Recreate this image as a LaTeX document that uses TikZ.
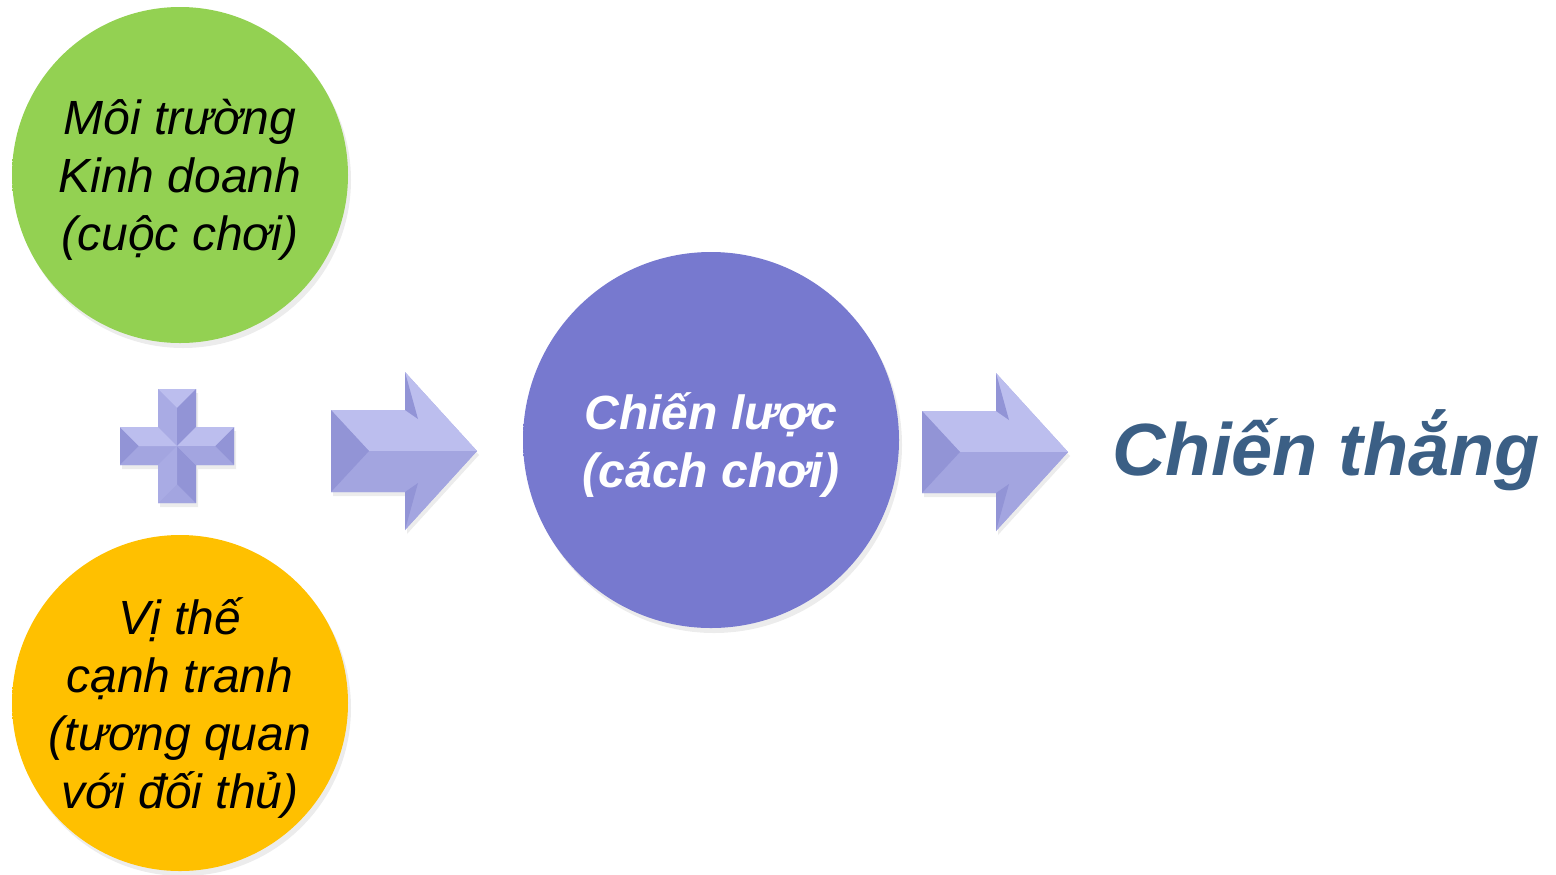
\documentclass[tikz,border=0pt]{standalone}
\usepackage{fontspec}
\setmainfont{Liberation Sans}
\usetikzlibrary{shadows}
\pgfdeclarelayer{edgelayer}
\pgfdeclarelayer{nodelayer}
\pgfsetlayers{edgelayer,nodelayer,main}
\definecolor{leaf}{HTML}{93D152}
\definecolor{leafrim}{HTML}{7CBB3A}
\definecolor{gold}{HTML}{FFC000}
\definecolor{goldrim}{HTML}{F0A400}
\definecolor{iris}{HTML}{7779CF}
\definecolor{irisrim}{HTML}{6365C0}
\definecolor{slate}{HTML}{3B5F85}
\definecolor{lav}{HTML}{A9ABE4}
\definecolor{lavlight}{HTML}{BCBEEE}
\definecolor{lavmid}{HTML}{A3A5E0}
\definecolor{lavdark}{HTML}{9294D6}
\pgfdeclareradialshading{leafshade}{\pgfpoint{0bp}{0bp}}{color(0bp)=(leaf); color(40bp)=(leaf); color(50bp)=(leafrim)}
\pgfdeclareradialshading{goldshade}{\pgfpoint{0bp}{0bp}}{color(0bp)=(gold); color(40bp)=(gold); color(50bp)=(goldrim)}
\pgfdeclareradialshading{irisshade}{\pgfpoint{0bp}{0bp}}{color(0bp)=(iris); color(40bp)=(iris); color(50bp)=(irisrim)}
\tikzstyle{ball}=[circle,inner sep=0pt,align=center,text depth=-2pt,drop shadow={shadow xshift=1.5pt,shadow yshift=-2.5pt,opacity=0.15}]
\tikzstyle{leafball}=[ball,minimum size=168pt,shading=leafshade,text=black,font=\itshape\fontsize{24}{29}\selectfont]
\tikzstyle{goldball}=[ball,minimum size=168pt,shading=goldshade,text=black,font=\itshape\fontsize{24}{29}\selectfont]
\tikzstyle{irisball}=[ball,minimum size=188pt,shading=irisshade,text=white,font=\bfseries\itshape\fontsize{24}{29}\selectfont]
\tikzstyle{winner}=[inner sep=0pt,text=slate,font=\bfseries\itshape\fontsize{37}{40}\selectfont]
\tikzstyle{facet}=[draw=none]
\tikzstyle{body}=[fill=lav,drop shadow={shadow xshift=1pt,shadow yshift=-2pt,opacity=0.15}]

\begin{document}
\begin{tikzpicture}[x=0.5pt,y=-0.5pt]
	\useasboundingbox (0,0) rectangle (1556,874);
	\begin{pgfonlayer}{nodelayer}
		\node [style=leafball] (game) at (180,175) {Môi trường\\Kinh doanh\\(cuộc chơi)};
		\node [style=goldball] (rival) at (180,703) {Vị thế\\cạnh tranh\\(tương quan\\với đối thủ)};
		\node [style=irisball] (play) at (711,440) {Chiến lược\\(cách chơi)};
		\node [style=winner,anchor=base west] (win) at (1112,475) {Chiến thắng};
		\coordinate (plus) at (177,446);
		\coordinate (pushA) at (404,451);
		\coordinate (pushB) at (995,452);
	\end{pgfonlayer}
	\begin{pgfonlayer}{edgelayer}
		% plus sign
		\begin{scope}[shift={(plus)}]
			\fill [style=body] (-19,-57) -- (19,-57) -- (19,-19) -- (57,-19) -- (57,19) -- (19,19) -- (19,57) -- (-19,57) -- (-19,19) -- (-57,19) -- (-57,-19) -- (-19,-19) -- cycle;
			\foreach \ang/\capc/\ca/\cb in {0/lavlight/lav/lavdark, 90/lavdark/lavmid/lavlight, 180/lavmid/lavdark/lav, 270/lavdark/lavlight/lavmid} {
				\fill [style=facet,fill=\capc,rotate=\ang] (-19,-57) -- (19,-57) -- (0,-38) -- cycle;
				\fill [style=facet,fill=\ca,rotate=\ang] (-19,-57) -- (0,-38) -- (0,0) -- (-19,-19) -- cycle;
				\fill [style=facet,fill=\cb,rotate=\ang] (19,-57) -- (0,-38) -- (0,0) -- (19,-19) -- cycle;
			}
		\end{scope}
		% block arrows
		\foreach \where in {pushA,pushB} {
			\begin{scope}[shift={(\where)}]
				\fill [style=body] (-73,-41) -- (1,-41) -- (1,-79) -- (73,0) -- (1,79) -- (1,41) -- (-73,41) -- cycle;
				\fill [style=facet,fill=lavlight] (-73,-41) -- (1,-41) -- (1,-79) -- (73,0) -- (-35,0) -- cycle;
				\fill [style=facet,fill=lavmid] (-73,41) -- (1,41) -- (1,79) -- (73,0) -- (-35,0) -- cycle;
				\fill [style=facet,fill=lavdark] (-73,-41) -- (-35,0) -- (-73,41) -- cycle;
				\fill [style=facet,fill=lavdark] (1,-79) -- (14,-32) -- (1,-41) -- cycle;
				\fill [style=facet,fill=lavdark] (1,79) -- (14,32) -- (1,41) -- cycle;
			\end{scope}
		}
	\end{pgfonlayer}
\end{tikzpicture}
\end{document}
